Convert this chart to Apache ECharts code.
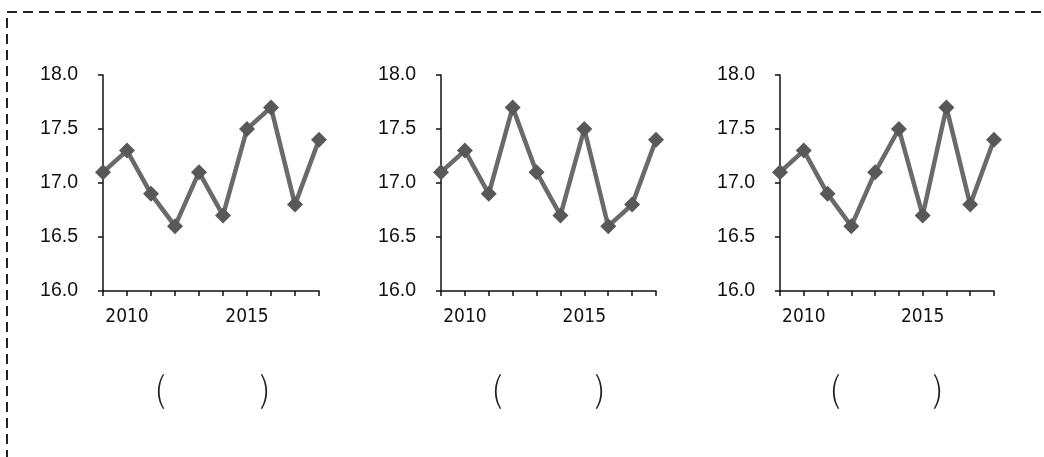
<!DOCTYPE html>
<html><head><meta charset="utf-8">
<script src="https://cdn.jsdelivr.net/npm/echarts@6/dist/echarts.min.js"></script>
<style>html,body{margin:0;padding:0;background:#fff}#c{width:1044px;height:457px}</style>
</head><body><div id="c"></div>
<script>
var years = ['2009','2010','2011','2012','2013','2014','2015','2016','2017','2018'];
var shownYears = ['2010','2015'];
var yTicks = [16.0, 16.5, 17.0, 17.5, 18.0];
var series1 = [17.1, 17.3, 16.9, 16.6, 17.1, 16.7, 17.5, 17.7, 16.8, 17.4];
var series2 = [17.1, 17.3, 16.9, 17.7, 17.1, 16.7, 17.5, 16.6, 16.8, 17.4];
var series3 = [17.1, 17.3, 16.9, 16.6, 17.1, 17.5, 16.7, 17.7, 16.8, 17.4];
var allSeries = [series1, series2, series3];

var grids = [
  {left:103, top:75, width:216, height:216},
  {left:441, top:75, width:215, height:216},
  {left:780, top:75, width:214, height:216}
];
var yFont = '"Liberation Sans", Arial, sans-serif';
var xFont = '"DejaVu Sans Condensed", "Liberation Sans", sans-serif';
var xAxes = [], yAxes = [], ser = [];
allSeries.forEach(function(d, i){
  xAxes.push({
    type:'category', gridIndex:i, data:years, boundaryGap:false,
    axisLine:{lineStyle:{color:'#111', width:1.5}},
    axisTick:{show:true, interval:0, length:5, lineStyle:{color:'#111', width:1.5}},
    axisLabel:{interval:0, color:'#111', fontSize:19, fontFamily:xFont, margin:17,
      formatter:function(v){return shownYears.indexOf(v)>=0 ? v : '';}},
    splitLine:{show:false}
  });
  yAxes.push({
    type:'value', gridIndex:i, min:yTicks[0], max:yTicks[yTicks.length-1], interval:0.5,
    axisLine:{show:true, lineStyle:{color:'#111', width:1.5}},
    axisTick:{show:true, length:5, lineStyle:{color:'#111', width:1.5}},
    axisLabel:{color:'#111', fontSize:19.5, fontFamily:yFont, margin:25,
      formatter:function(v){return v.toFixed(1);}},
    splitLine:{show:false}
  });
  ser.push({
    type:'line', xAxisIndex:i, yAxisIndex:i, data:d,
    symbol:'diamond', symbolSize:16,
    lineStyle:{color:'#6a6a6a', width:4.5},
    itemStyle:{color:'#585858'},
    animation:false
  });
});

var parenPos = [[160,265],[497,600],[835,938]];
var graphics = [{
  type:'rect', shape:{x:7, y:12, width:1100, height:500},
  style:{fill:'none', stroke:'#222', lineWidth:2, lineDash:[10,6]}
}];
var pFont = '300 35px "Noto Sans CJK JP", sans-serif';
parenPos.forEach(function(p){
  graphics.push({type:'text', x:p[0], y:389, style:{text:'(', font:pFont, fill:'#222', textAlign:'center', textVerticalAlign:'middle'}});
  graphics.push({type:'text', x:p[1], y:389, style:{text:')', font:pFont, fill:'#222', textAlign:'center', textVerticalAlign:'middle'}});
});

var chart = echarts.init(document.getElementById('c'));
chart.setOption({
  animation:false,
  grid:grids, xAxis:xAxes, yAxis:yAxes, series:ser,
  graphic:graphics
});
</script></body></html>
